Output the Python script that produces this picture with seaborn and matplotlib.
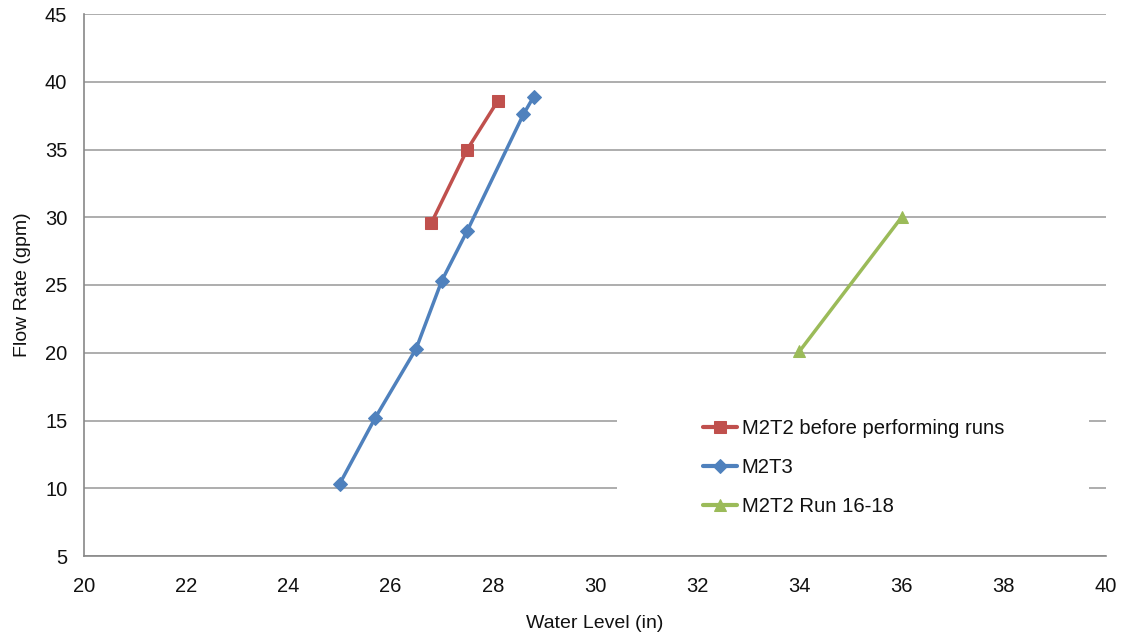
import matplotlib
matplotlib.use("Agg")
import matplotlib.pyplot as plt
from matplotlib.patches import Rectangle
import seaborn as sns
import pandas as pd

red_x = [26.8, 27.5, 28.1]
red_y = [29.6, 35.0, 38.6]
blue_x = [25.0, 25.7, 26.5, 27.0, 27.5, 28.6, 28.8]
blue_y = [10.3, 15.2, 20.3, 25.3, 29.0, 37.6, 38.9]
green_x = [34.0, 36.0]
green_y = [20.1, 30.0]

names = ["M2T2 before performing runs", "M2T3", "M2T2 Run 16-18"]
colors = ["#C0504D", "#4F81BD", "#9BBB59"]
markers = ["s", "D", "^"]
msizes = [9, 7, 9]

sns.set_theme(style="white")
plt.rcParams['font.family'] = ['Liberation Sans', 'DejaVu Sans']

W, H = 1125, 639
fig = plt.figure(figsize=(W/100, H/100), dpi=100)
ax = fig.add_axes([84/W, 1-556/H, (1106-84)/W, (556-14)/H])

series = [(red_x, red_y), (blue_x, blue_y), (green_x, green_y)]
for (xs, ys), n, c, m, ms in zip(series, names, colors, markers, msizes):
    df = pd.DataFrame({"x": xs, "y": ys})
    sns.lineplot(data=df, x="x", y="y", ax=ax, color=c, marker=m, markersize=ms,
                 markeredgecolor=c, linewidth=2.5, label=n, sort=False, zorder=3)

ax.set_xlim(20, 40)
ax.set_ylim(5, 45)
ax.set_xticks(range(20, 41, 2))
ax.set_yticks(range(5, 46, 5))
ax.set_axisbelow(True)
ax.yaxis.grid(True, color="#A0A0A0", linewidth=1.2, zorder=0.5)
ax.xaxis.grid(False)
for s in ["top", "right"]:
    ax.spines[s].set_visible(False)
for s in ["left", "bottom"]:
    ax.spines[s].set_color("#888888")
    ax.spines[s].set_linewidth(1.2)
ax.tick_params(axis="both", length=0, labelsize=14.5, colors="#111111")
ax.tick_params(axis="y", pad=12)
ax.tick_params(axis="x", pad=15)
ax.set_xlabel("Water Level (in)", fontsize=14, color="#111111", labelpad=14)
ax.set_ylabel("Flow Rate (gpm)", fontsize=14, color="#111111", labelpad=10)

# white legend background box
ax.add_patch(Rectangle((617/W, 1-535/H), (1089-617)/W, (535-405)/H,
                       transform=fig.transFigure, facecolor="white",
                       edgecolor="none", zorder=1))

leg = ax.legend(loc="upper left", bbox_to_anchor=(703/W, 1-419/H),
                bbox_transform=fig.transFigure,
                frameon=False, fontsize=14.6, handlelength=1.7, handletextpad=0.2,
                labelspacing=0.98, borderpad=0, borderaxespad=0)
for t in leg.get_texts():
    t.set_color("#111111")
for h in leg.legend_handles:
    h.set_linewidth(3)

fig.savefig("out.png", dpi=100)
